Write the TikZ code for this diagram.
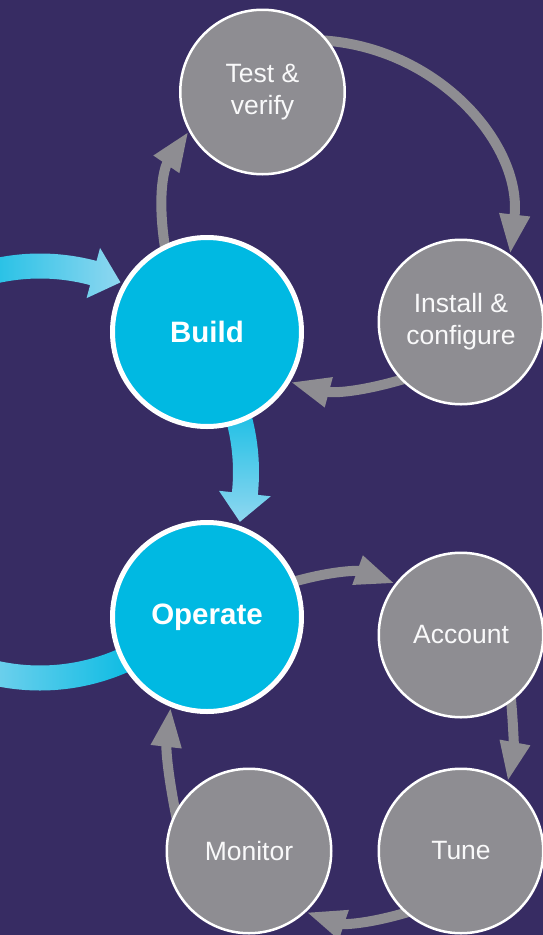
\documentclass[tikz,border=0pt]{standalone}
\usepackage{fontspec}
\setmainfont{Liberation Sans}
\usetikzlibrary{arrows.meta}
\definecolor{bgpurple}{HTML}{372C63}
\definecolor{cyanfill}{HTML}{00B9E2}
\definecolor{lightcyan}{HTML}{8FD7F0}
\definecolor{stepgray}{HTML}{8E8D92}
\pgfdeclarelayer{under}
\pgfsetlayers{under,main}

\begin{document}
\begin{tikzpicture}[x=1pt,y=1pt,
  phase/.style={circle, fill=cyanfill, draw=white, line width=5pt,
    minimum size=189pt, inner sep=0pt, text=white,
    font=\fontsize{29.5}{34}\selectfont\bfseries},
  task/.style={circle, fill=stepgray, draw=white, line width=2.5pt,
    minimum size=164.5pt, inner sep=0pt, text=white!95!stepgray, align=center,
    font=\fontsize{26.5}{32}\selectfont},
  flow/.style={draw=stepgray, line width=10pt,
    -{Triangle[width=28pt,length=40pt]}, shorten <=-10pt},
]
\useasboundingbox (0,0) rectangle (543,-935);

% phase circles
\node[phase] (build)   at (207,-332) {Build};
\node[phase] (operate) at (207,-617) {Operate};

% task circles
\node[task] (test)    at (262.5,-92) {Test \&\\verify};
\node[task] (install) at (461,-322)  {Install \&\\configure};
\node[task] (account) at (461,-635)  {Account};
\node[task] (tune)    at (461,-851)  {Tune};
\node[task] (monitor) at (249,-851)  {Monitor};

\begin{pgfonlayer}{under}
  \fill[bgpurple] (0,0) rectangle (543,-935);

  % outer build/operate cycle on one large circle
  \begin{scope}[shift={(40,-472)}]
    % left edge into Build
    \shade[left color=cyanfill, right color=lightcyan]
      (115:218.5) arc[start angle=115, end angle=75, radius=218.5]
      -- (75:193.5) arc[start angle=75, end angle=115, radius=193.5] -- cycle
      (75:232) -- (67:206) -- (75:180) -- cycle;
    % Build down to Operate
    \shade[top color=cyanfill!80!lightcyan, bottom color=lightcyan]
      (16:219) arc[start angle=16, end angle=-6, radius=219]
      -- (-6:193) arc[start angle=-6, end angle=16, radius=193] -- cycle
      (-6:232) -- (-14:206) -- (-6:180) -- cycle;
    % Operate out to the left edge
    \shade[left color=lightcyan, right color=cyanfill]
      (-60:218.5) arc[start angle=-60, end angle=-115, radius=218.5]
      -- (-115:193.5) arc[start angle=-115, end angle=-60, radius=193.5] -- cycle;
  \end{scope}

  % build cycle
  \draw[flow] (build.116) to[bend left=22] (test.208);
  \draw[flow] (test.38) to[bend left=47] (install.54);
  \draw[flow] (install.224) to[bend left=16] (build.329);

  % operate cycle
  \draw[flow] (operate.22) to[bend left=18] (account.142);
  \draw[flow] (account.307) to[bend left=8] (tune.56);
  \draw[flow] (tune.228) to[bend left=18] (monitor.313);
  \draw[flow] (monitor.152) to[bend left=9] (operate.248);
\end{pgfonlayer}
\end{tikzpicture}
\end{document}
